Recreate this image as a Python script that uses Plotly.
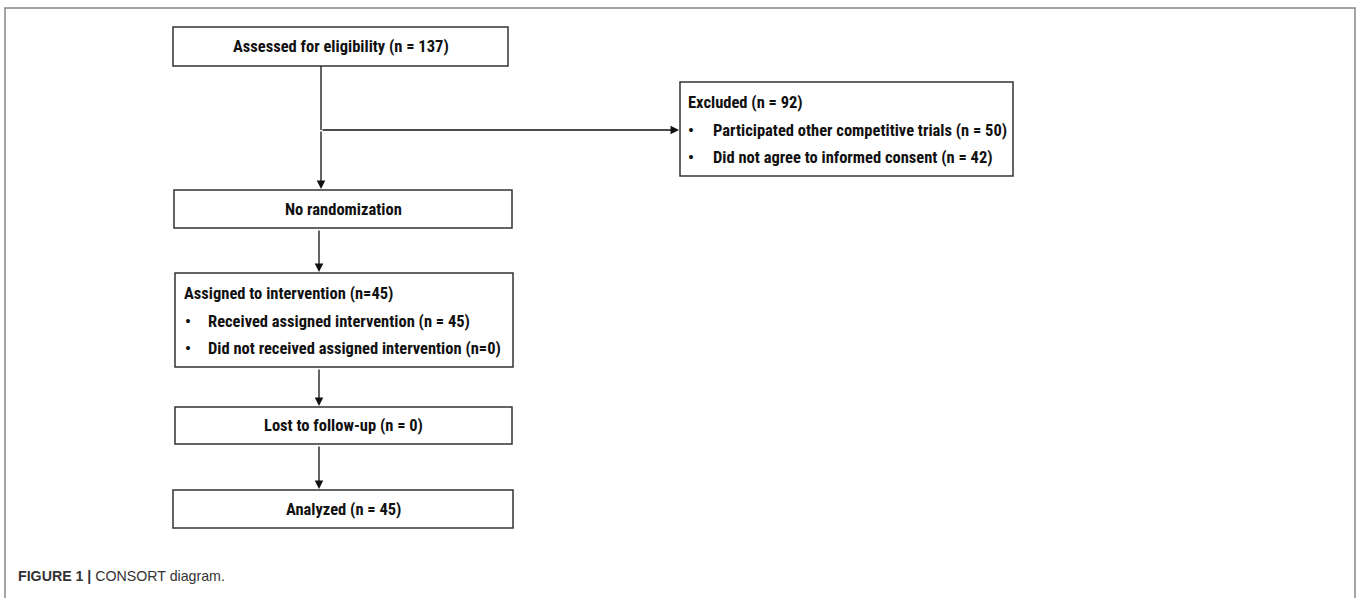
import plotly.graph_objects as go

# ---- data (texts of the flow diagram) ----
box_titles = [
    "Assessed for eligibility (n = 137)",
    "No randomization",
    "Lost to follow-up (n = 0)",
    "Analyzed (n = 45)",
]
excluded_title = "Excluded (n = 92)"
excluded_items = [
    "Participated other competitive trials (n = 50)",
    "Did not agree to informed consent (n = 42)",
]
assigned_title = "Assigned to intervention (n=45)"
assigned_items = [
    "Received assigned intervention (n = 45)",
    "Did not received assigned intervention (n=0)",
]
caption_bold = "FIGURE 1 |"
caption_text = "CONSORT diagram."

# ---- layout geometry (page pixels) ----
W, H = 1357, 598
FONT = "Liberation Sans Narrow, Arial Narrow, Roboto Condensed, Liberation Sans, sans-serif"
CAP_FONT = "Liberation Sans, Arial, Helvetica, sans-serif"
FS = 16.5
BORDER = "#333333"
INK = "#111111"

centre_boxes = [  # x0, y0, x1, y1
    (173, 27, 508, 66),
    (174, 190, 512, 228),
    (175, 407, 512, 444),
    (173, 490, 513, 528),
]
excluded_box = (680, 82, 1013, 176)
assigned_box = (175, 273, 513, 367)

fig = go.Figure()
fig.add_trace(go.Scatter(x=[0, W], y=[0, H], mode="markers",
                         marker=dict(opacity=0), hoverinfo="skip", showlegend=False))

shapes = []
annotations = []

def rect(b):
    shapes.append(dict(type="rect", xref="x", yref="y", x0=b[0], y0=b[1], x1=b[2], y1=b[3],
                       line=dict(color=BORDER, width=1.5), fillcolor="white", layer="below"))

for b, t in zip(centre_boxes, box_titles):
    rect(b)
    annotations.append(dict(x=(b[0] + b[2]) / 2, y=(b[1] + b[3]) / 2, xref="x", yref="y",
                            text="<b>%s</b>" % t, showarrow=False,
                            font=dict(family=FONT, size=FS, color=INK),
                            xanchor="center", yanchor="middle"))

def list_box(b, title, items, line_ys, x_text, x_bullet, x_item):
    rect(b)
    annotations.append(dict(x=x_text, y=line_ys[0], xref="x", yref="y", text="<b>%s</b>" % title,
                            showarrow=False, xanchor="left", yanchor="middle",
                            font=dict(family=FONT, size=FS, color=INK)))
    for yy, it in zip(line_ys[1:], items):
        annotations.append(dict(x=x_bullet, y=yy, xref="x", yref="y", text="<b>•</b>",
                                showarrow=False, xanchor="center", yanchor="middle",
                                font=dict(family=FONT, size=FS, color=INK)))
        annotations.append(dict(x=x_item, y=yy, xref="x", yref="y", text="<b>%s</b>" % it,
                                showarrow=False, xanchor="left", yanchor="middle",
                                font=dict(family=FONT, size=FS, color=INK)))

list_box(excluded_box, excluded_title, excluded_items, [102, 130, 157], 686, 691, 711)
list_box(assigned_box, assigned_title, assigned_items, [293, 321, 348], 182, 188, 206)

def arrow(x0, y0, x1, y1):
    annotations.append(dict(x=x1, y=y1, ax=x0, ay=y0, xref="x", yref="y", axref="x", ayref="y",
                            text="", showarrow=True, arrowhead=2, arrowsize=1.3,
                            arrowwidth=1.3, arrowcolor=INK, standoff=0))

shapes.append(dict(type="line", xref="x", yref="y", x0=321, y0=66, x1=321, y1=130,
                   line=dict(color=INK, width=1.3)))
arrow(321, 130, 321, 189)
arrow(321, 130, 679, 130)
arrow(319, 229, 319, 272)
arrow(319, 368, 319, 406)
arrow(319, 445, 319, 489)

# outer frame (open at the bottom)
shapes.append(dict(type="path", xref="x", yref="y", path="M 5 600 L 5 8 L 1355 8 L 1355 600",
                   line=dict(color="#888888", width=1.5)))

annotations.append(dict(x=16, y=576, xref="x", yref="y",
                        text="<b>%s</b> %s" % (caption_bold, caption_text),
                        showarrow=False, xanchor="left", yanchor="middle",
                        font=dict(family=CAP_FONT, size=14.2, color="#333333")))

fig.update_layout(
    width=W, height=H, margin=dict(l=0, r=0, t=0, b=0),
    paper_bgcolor="white", plot_bgcolor="white",
    xaxis=dict(range=[0, W], visible=False, fixedrange=True),
    yaxis=dict(range=[H, 0], visible=False, fixedrange=True),
    shapes=shapes, annotations=annotations, showlegend=False,
)
fig.write_html("out.html", config={"displayModeBar": False},
               post_script="document.body.style.margin='0';document.body.style.overflow='hidden';")
